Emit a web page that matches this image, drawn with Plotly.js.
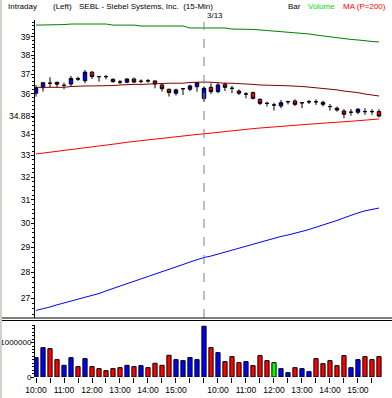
<!DOCTYPE html>
<html>
<head>
<meta charset="utf-8">
<script src="https://cdn.plot.ly/plotly-3.0.1.min.js"></script>
<style>html,body{margin:0;padding:0;background:#fff;}#chart{width:392px;height:398px;}</style>
</head>
<body>
<div id="chart"></div>
<script>
// ---- data ----
const times = ["10:00","10:15","10:30","10:45","11:00","11:15","11:30","11:45","12:00","12:15","12:30","12:45",
  "13:00","13:15","13:30","13:45","14:00","14:15","14:30","14:45","15:00","15:15","15:30","15:45",
  "9:30","9:45","10:00","10:15","10:30","10:45","11:00","11:15","11:30","11:45","12:00","12:15",
  "12:30","12:45","13:00","13:15","13:30","13:45","14:00","14:15","14:30","14:45","15:00","15:15","15:30","15:45"];
const dates = ["3/12","3/12","3/12","3/12","3/12","3/12","3/12","3/12","3/12","3/12","3/12","3/12",
  "3/12","3/12","3/12","3/12","3/12","3/12","3/12","3/12","3/12","3/12","3/12","3/12",
  "3/13","3/13","3/13","3/13","3/13","3/13","3/13","3/13","3/13","3/13","3/13","3/13",
  "3/13","3/13","3/13","3/13","3/13","3/13","3/13","3/13","3/13","3/13","3/13","3/13","3/13","3/13"];
const openP = [36.02,36.30,36.53,36.58,36.42,36.49,36.74,36.66,37.10,36.87,36.87,36.73,36.59,36.58,36.75,36.63,36.65,36.65,36.44,36.22,36.02,36.25,36.22,36.35,
  35.75,36.32,36.10,36.48,36.27,36.13,35.98,36.05,35.71,35.51,35.43,35.38,35.58,35.63,35.54,35.59,35.59,35.56,35.35,35.27,35.13,35.07,35.07,35.10,35.10,35.10];
const highP = [36.44,36.58,36.84,36.60,36.56,36.90,36.87,37.22,37.16,36.90,36.96,36.78,36.70,36.78,36.82,36.73,36.75,36.66,36.49,36.25,36.25,36.25,36.46,36.59,
  36.37,36.53,36.56,36.56,36.39,36.22,36.07,36.10,35.76,35.59,35.54,35.68,35.64,35.71,35.54,35.68,35.71,35.64,35.48,35.35,35.22,35.23,35.27,35.27,35.22,35.22];
const lowP = [35.85,36.10,36.32,36.32,36.22,36.35,36.65,36.53,36.75,36.61,36.73,36.56,36.49,36.53,36.53,36.53,36.56,36.27,36.10,35.85,35.90,35.93,36.12,36.10,
  35.59,35.98,36.02,36.13,36.02,35.93,35.76,35.71,35.43,35.35,35.15,35.27,35.46,35.38,35.27,35.48,35.43,35.35,35.15,35.10,34.77,34.90,34.97,34.94,34.94,34.82];
const closeP = [36.30,36.56,36.53,36.48,36.42,36.78,36.76,37.10,36.87,36.87,36.87,36.61,36.59,36.75,36.59,36.63,36.65,36.49,36.25,36.05,36.19,36.25,36.39,36.56,
  36.27,36.10,36.44,36.32,36.27,36.02,35.98,35.76,35.51,35.51,35.43,35.54,35.60,35.46,35.54,35.59,35.59,35.46,35.35,35.18,34.97,35.07,35.22,35.10,35.10,34.88];
const volume = [563000,854000,825000,505000,340000,563000,301000,534000,301000,243000,184000,243000,272000,340000,301000,330000,272000,398000,340000,631000,505000,476000,568000,505000,
  1476000,854000,709000,447000,592000,417000,447000,330000,621000,476000,417000,243000,126000,272000,243000,155000,534000,388000,476000,330000,621000,272000,505000,592000,505000,592000];
const volDir = ["u","u","d","d","u","u","d","u","d","d","d","d","d","u","d","u","d","d","d","d","u","u","u","u",
  "u","d","u","d","d","d","u","d","d","d","n","u","u","d","u","u","d","d","d","d","d","u","u","d","d","d"];
const maUpper = [39.64,39.64,39.67,39.67,39.67,39.70,39.70,39.70,39.70,39.70,39.70,39.64,39.64,39.64,39.64,39.59,39.59,39.59,39.59,39.59,39.59,39.59,39.48,39.48,
  39.48,39.48,39.48,39.48,39.42,39.42,39.42,39.40,39.37,39.34,39.31,39.28,39.26,39.23,39.20,39.15,39.09,39.04,38.98,38.93,38.87,38.85,38.82,38.76,38.74,38.71];
const maMid = [36.32,36.32,36.32,36.32,36.32,36.36,36.39,36.39,36.39,36.39,36.39,36.41,36.44,36.47,36.47,36.47,36.49,36.49,36.53,36.53,36.53,36.53,36.57,36.59,
  36.59,36.58,36.54,36.53,36.53,36.52,36.49,36.47,36.44,36.44,36.42,36.41,36.40,36.39,36.36,36.33,36.30,36.27,36.24,36.19,36.13,36.10,36.05,35.98,35.93,35.88];
const maLower = [33.07,33.11,33.14,33.19,33.23,33.27,33.31,33.36,33.39,33.44,33.48,33.53,33.57,33.62,33.66,33.70,33.74,33.78,33.81,33.85,33.89,33.93,33.97,33.99,
  34.02,34.06,34.10,34.13,34.17,34.21,34.24,34.27,34.30,34.32,34.35,34.38,34.40,34.43,34.46,34.49,34.51,34.54,34.56,34.58,34.60,34.62,34.65,34.68,34.71,34.74];
const maLong = [26.54,26.60,26.67,26.75,26.82,26.90,26.95,27.03,27.11,27.18,27.28,27.37,27.47,27.55,27.64,27.74,27.82,27.92,28.02,28.12,28.21,28.31,28.41,28.51,
  28.59,28.65,28.73,28.82,28.90,28.98,29.06,29.12,29.20,29.29,29.37,29.45,29.51,29.60,29.66,29.74,29.83,29.91,30.01,30.12,30.23,30.35,30.44,30.53,30.59,30.65];
const priceTicks = [27,28,29,30,31,32,33,34,34.88,36,37,38,39];
const priceTickText = ["27","28","29","30","31","32","33","34","34.88","36","37","38","39"];
const volTicks = [0,1000000];
const volTickText = ["0","1000000"];
const headerLeft = ["Intraday","(Left)","SEBL - Siebel Systems, Inc.\u00a0 (15-Min)"];
const headerRight = ["Bar","Volume","MA (P=200)"];

// ---- build ----
const idx = times.map((t,i)=>i);
const xTickVals = [], xTickText = [];
times.forEach((t,i)=>{ const m = t.split(":")[1]; if(m==="00"||m==="30"){ xTickVals.push(i); xTickText.push(m==="00"?t:""); } });
let breakIdx = dates.findIndex((d,i)=> i>0 && d!==dates[i-1]);
const volColors = volDir.map(d=> d==="u" ? "#0000ff" : d==="d" ? "#ff0000" : "#00ff00");

const minorPrice = [];
for(let v=26.4; v<=39.9; v+=0.2) minorPrice.push(+v.toFixed(2));

const FONT = "Liberation Sans, Arial, sans-serif";
const W=392,H=398,L=35,R=4,T=20,B=21;
const pw=W-L-R, ph=H-T-B;
const py = y => (H-B-y)/ph;   // pixel -> paper (vertical)
const px = x => (x-L)/pw;     // pixel -> paper (horizontal)

const traces = [
  {type:"scatter",mode:"lines",x:idx,y:maUpper,xaxis:"x",yaxis:"y2",line:{color:"#008000",width:1},hoverinfo:"skip"},
  {type:"scatter",mode:"lines",x:idx,y:maMid,xaxis:"x",yaxis:"y2",line:{color:"#800000",width:1},hoverinfo:"skip"},
  {type:"scatter",mode:"lines",x:idx,y:maLower,xaxis:"x",yaxis:"y2",line:{color:"#ff0000",width:1},hoverinfo:"skip"},
  {type:"scatter",mode:"lines",x:idx,y:maLong,xaxis:"x",yaxis:"y2",line:{color:"#0000ff",width:1},hoverinfo:"skip"},
  {type:"candlestick",x:idx,open:openP,high:highP,low:lowP,close:closeP,xaxis:"x",yaxis:"y2",
   increasing:{line:{color:"#000000",width:1},fillcolor:"#0000ff"},
   decreasing:{line:{color:"#000000",width:1},fillcolor:"#ff0000"},
   whiskerwidth:0,hoverinfo:"skip"},
  {type:"bar",x:idx,y:volume,xaxis:"x",yaxis:"y",width:0.6,
   marker:{color:volColors,line:{color:"#000000",width:1}},hoverinfo:"skip"}
];

const annotations = [];
const leftX = [6,51,77];
headerLeft.forEach((t,i)=>annotations.push({text:t,xref:"paper",yref:"paper",x:px(leftX[i]),y:py(7),xanchor:"left",yanchor:"middle",showarrow:false,font:{family:FONT,size:8,color:"#000"}}));
const rightX = [286,306,341], rightC = ["#000000","#00e000","#ff0000"];
headerRight.forEach((t,i)=>annotations.push({text:t,xref:"paper",yref:"paper",x:px(rightX[i]),y:py(7),xanchor:"left",yanchor:"middle",showarrow:false,font:{family:FONT,size:8,color:rightC[i]}}));
annotations.push({text:dates[breakIdx],xref:"x",yref:"paper",x:breakIdx,xshift:1,y:py(15),xanchor:"left",yanchor:"middle",showarrow:false,font:{family:FONT,size:8,color:"#000"}});

const shapes = [
  {type:"line",xref:"x",yref:"paper",x0:breakIdx,x1:breakIdx,y0:py(318),y1:py(22),line:{color:"#808080",width:1,dash:"dash"}},
  {type:"line",xref:"paper",yref:"paper",x0:px(0),x1:px(392),y0:py(318),y1:py(318),line:{color:"#000",width:1}},
  {type:"line",xref:"paper",yref:"paper",x0:px(0),x1:px(392),y0:py(320.5),y1:py(320.5),line:{color:"#000",width:1}},
  {type:"rect",xref:"paper",yref:"paper",x0:px(0),x1:px(2),y0:py(398),y1:py(0),line:{width:0},fillcolor:"#d4d0c8"}
];

const layout = {
  width:W,height:H,margin:{l:L,r:R,t:T,b:B,pad:0},
  paper_bgcolor:"#ffffff",plot_bgcolor:"#ffffff",showlegend:false,
  font:{family:FONT,size:9,color:"#000"},
  xaxis:{anchor:"y",range:[-0.143,50.29],tickmode:"array",tickvals:xTickVals,ticktext:xTickText,
    ticks:"outside",ticklen:5,tickcolor:"#000",tickwidth:1,showline:false,showgrid:false,zeroline:false,
    tickfont:{family:FONT,size:8.5,color:"#000"},rangeslider:{visible:false},fixedrange:true},
  yaxis:{domain:[0,py(325)],range:[0,1512000],tickmode:"array",tickvals:volTicks,ticktext:volTickText,
    ticks:"outside",ticklen:3,tickcolor:"#000",showline:true,linecolor:"#000",linewidth:1,showgrid:false,zeroline:false,
    tickfont:{family:FONT,size:8,color:"#000"},ticklabelstandoff:-2,
    minor:{ticks:"outside",ticklen:2,tickcolor:"#000",dtick:100000,showgrid:false}},
  yaxis2:{domain:[py(318),1],type:"log",range:[1.41929,1.60125],tickmode:"array",tickvals:priceTicks,ticktext:priceTickText,
    ticks:"outside",ticklen:3,tickcolor:"#000",showline:true,linecolor:"#000",linewidth:1,showgrid:false,zeroline:false,
    tickfont:{family:FONT,size:8.5,color:"#000"},ticklabelstandoff:-1,
    minor:{ticks:"outside",ticklen:2,tickcolor:"#000",tickmode:"array",tickvals:minorPrice,showgrid:false}},
  annotations:annotations,shapes:shapes,hovermode:false
};

Plotly.newPlot("chart",traces,layout,{staticPlot:true,displayModeBar:false});
</script>
</body>
</html>
